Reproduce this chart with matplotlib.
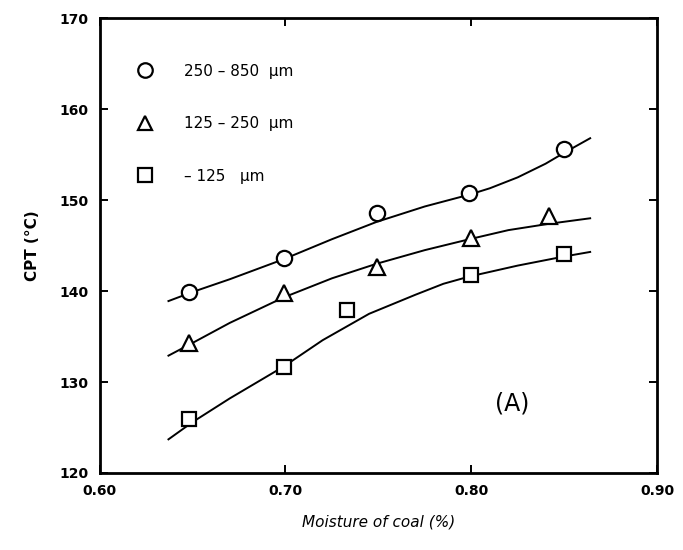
import matplotlib
matplotlib.use("Agg")
import matplotlib.pyplot as plt

# measured points
x_circle = [0.648, 0.699, 0.749, 0.799, 0.850]
y_circle = [139.9, 143.6, 148.6, 150.8, 155.6]
x_tri = [0.648, 0.699, 0.749, 0.800, 0.842]
y_tri = [134.3, 139.8, 142.6, 145.8, 148.2]
x_sq = [0.648, 0.699, 0.733, 0.800, 0.850]
y_sq = [125.9, 131.6, 137.9, 141.8, 144.1]

# hand-drawn fit curves
cx_circle = [0.637, 0.650, 0.670, 0.699, 0.725, 0.749, 0.775, 0.799,
             0.810, 0.825, 0.840, 0.850, 0.864]
cy_circle = [138.9, 139.9, 141.3, 143.5, 145.7, 147.6, 149.3, 150.6,
             151.3, 152.5, 154.0, 155.2, 156.8]
cx_tri = [0.637, 0.650, 0.670, 0.699, 0.725, 0.749, 0.775, 0.799,
          0.820, 0.842, 0.864]
cy_tri = [132.9, 134.3, 136.5, 139.3, 141.4, 143.0, 144.5, 145.7,
          146.7, 147.4, 148.0]
cx_sq = [0.637, 0.650, 0.670, 0.699, 0.720, 0.745, 0.770, 0.785,
         0.799, 0.825, 0.850, 0.864]
cy_sq = [123.7, 125.6, 128.2, 131.7, 134.6, 137.5, 139.6, 140.8,
         141.6, 142.8, 143.8, 144.3]

legend_labels = ["250 \u2013 850  \u03bcm", "125 \u2013 250  \u03bcm", "\u2013 125   \u03bcm"]
x_ticks = [0.60, 0.70, 0.80, 0.90]
y_ticks = [120, 130, 140, 150, 160, 170]

fig = plt.figure(figsize=(6.83, 5.5), dpi=100)
ax = fig.add_axes([0.146, 0.14, 0.816, 0.827])

line_kw = dict(color="black", lw=1.4)
ax.plot(cx_circle, cy_circle, **line_kw)
ax.plot(cx_tri, cy_tri, **line_kw)
ax.plot(cx_sq, cy_sq, **line_kw)

mk = dict(mfc="white", mec="black", mew=1.6, ls="none")
h1, = ax.plot(x_circle, y_circle, marker="o", ms=11, **mk)
h2, = ax.plot(x_tri, y_tri, marker="^", ms=11, **mk)
h3, = ax.plot(x_sq, y_sq, marker="s", ms=10, **mk)

leg = ax.legend([h1, h2, h3], legend_labels, loc="upper left",
                bbox_to_anchor=(0.03, 0.93), frameon=False,
                labelspacing=2.45, handletextpad=1.5, markerscale=0.95,
                prop={"size": 11})

ax.text(0.822, 127.6, "(A)", fontsize=17, ha="center", va="center")

ax.set_xlim(0.60, 0.90)
ax.set_ylim(120, 170)
ax.set_xticks(x_ticks)
ax.set_xticklabels(["%.2f" % v for v in x_ticks], fontsize=10, fontweight="bold")
ax.set_yticks(y_ticks)
ax.set_yticklabels([str(v) for v in y_ticks], fontsize=10, fontweight="bold")
ax.tick_params(direction="in", length=6, width=1.4, top=True, right=True, pad=8)
for s in ax.spines.values():
    s.set_linewidth(2)

ax.set_xlabel("Moisture of coal (%)", fontsize=11, style="italic", labelpad=12)
ax.set_ylabel("CPT (\u00b0C)", fontsize=11, fontweight="bold", labelpad=14)

fig.savefig("out.png", dpi=100)
